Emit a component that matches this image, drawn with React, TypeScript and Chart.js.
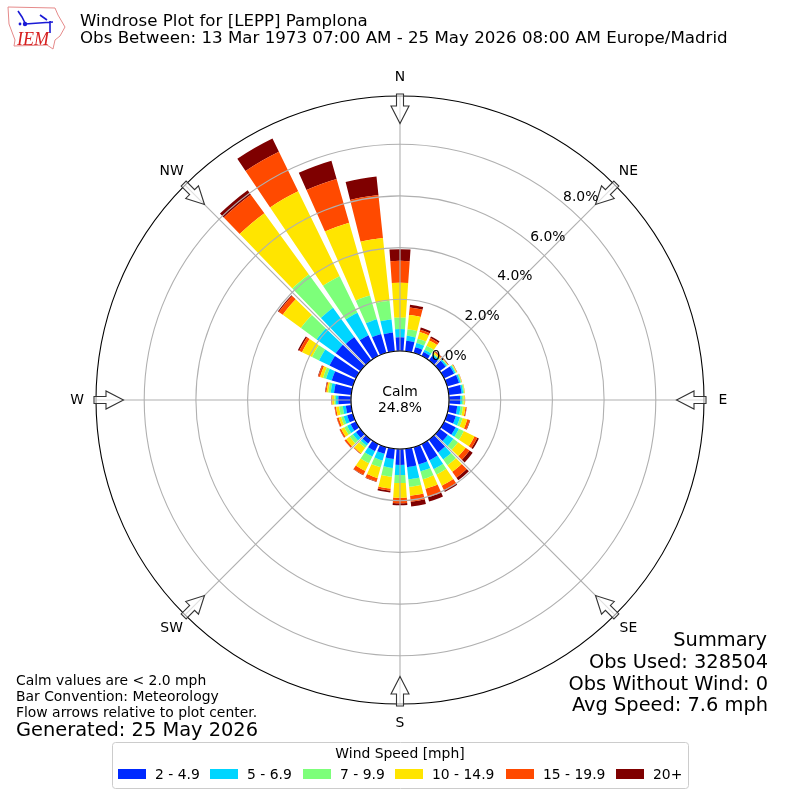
import { useEffect, useRef } from 'react';
import { Chart, ArcElement, RadialLinearScale, PolarAreaController } from 'chart.js';

const directions = [0, 10, 20, 30, 40, 50, 60, 70, 80, 90, 100, 110, 120, 130, 140, 150, 160, 170, 180, 190, 200, 210, 220, 230, 240, 250, 260, 270, 280, 290, 300, 310, 320, 330, 340, 350];
const compassLabels = ['N', 'NE', 'E', 'SE', 'S', 'SW', 'W', 'NW'];
const radialTicks = [0, 2, 4, 6, 8];

const speed2to5 = [0.53, 0.41, 0.23, 0.17, 0.21, 0.29, 0.43, 0.48, 0.5, 0.43, 0.33, 0.35, 0.5, 0.39, 0.61, 0.7, 0.7, 0.72, 0.62, 0.4, 0.27, 0.31, 0.19, 0.21, 0.23, 0.23, 0.21, 0.49, 0.67, 0.85, 1.14, 1.18, 1.12, 0.89, 0.76, 0.73];
const speed5to7 = [0.32, 0.19, 0.17, 0.1, 0.06, 0.06, 0.06, 0.06, 0.06, 0.07, 0.13, 0.17, 0.14, 0.27, 0.34, 0.38, 0.28, 0.47, 0.39, 0.35, 0.27, 0.23, 0.1, 0.15, 0.15, 0.14, 0.12, 0.09, 0.13, 0.23, 0.45, 0.91, 1.39, 0.97, 0.59, 0.51];
const speed7to10 = [0.44, 0.25, 0.17, 0.17, 0.04, 0.03, 0.03, 0.03, 0.04, 0.06, 0.09, 0.1, 0.21, 0.22, 0.27, 0.23, 0.31, 0.29, 0.31, 0.34, 0.27, 0.29, 0.1, 0.15, 0.12, 0.1, 0.14, 0.06, 0.09, 0.12, 0.3, 0.75, 1.59, 1.57, 0.96, 0.73];
const speed10to15 = [1.35, 0.56, 0.27, 0.23, 0.06, 0.02, 0.03, 0.02, 0.02, 0.05, 0.1, 0.19, 0.46, 0.36, 0.32, 0.48, 0.39, 0.35, 0.57, 0.46, 0.43, 0.33, 0.26, 0.17, 0.14, 0.1, 0.12, 0.08, 0.07, 0.12, 0.43, 0.87, 2.93, 3.66, 2.93, 2.44];
const speed15to20 = [0.85, 0.29, 0.09, 0.1, 0.04, 0.01, 0.01, 0.01, 0.005, 0.01, 0.04, 0.1, 0.12, 0.19, 0.28, 0.19, 0.34, 0.23, 0.21, 0.08, 0.14, 0.16, 0.03, 0.07, 0.06, 0.07, 0.05, 0.03, 0.04, 0.07, 0.12, 0.19, 0.89, 1.7, 1.76, 1.67];
const speed20up = [0.45, 0.11, 0.09, 0.07, 0.02, 0.02, 0.01, 0.004, 0.004, 0.004, 0.01, 0.02, 0.07, 0.15, 0.12, 0.08, 0.17, 0.19, 0.08, 0.07, 0.02, 0.02, 0.01, 0.01, 0.01, 0.01, 0.01, 0.01, 0.02, 0.02, 0.06, 0.04, 0.21, 0.57, 0.73, 0.72];

const speedLabels = ['2 - 4.9', '5 - 6.9', '7 - 9.9', '10 - 14.9', '15 - 19.9', '20+'];
const speedColors = ['#0029ff', '#00d5ff', '#7dff7a', '#ffe500', '#ff4a00', '#7f0000'];
const speedValues = [speed2to5, speed5to7, speed7to10, speed10to15, speed15to20, speed20up];

const FONT = '"DejaVu Sans"';
const BAR_WIDTH = 8; // degrees

// polar area elements, but stacked and placed on the real wind direction
class WindRoseController extends PolarAreaController {
    static id = 'windRose';

    updateElements(arcs: any[], start: number, count: number, mode: any) {
        const scale = this._cachedMeta.rScale;
        const datasets = this.chart.data.datasets;
        for (let i = start; i < start + count; i++) {
            let base = 0;
            for (let d = 0; d < this.index; d++) base += datasets[d].data[i] as number;
            const value = this.getDataset().data[i] as number;
            const mid = ((directions[i] - 90) * Math.PI) / 180;
            const half = ((BAR_WIDTH / 2) * Math.PI) / 180;
            this.updateElement(
                arcs[i],
                i,
                {
                    x: scale.xCenter,
                    y: scale.yCenter,
                    innerRadius: scale.getDistanceFromCenterForValue(base),
                    outerRadius: scale.getDistanceFromCenterForValue(base + value),
                    startAngle: mid - half,
                    endAngle: mid + half,
                    circumference: half * 2,
                    options: this.resolveDataElementOptions(i, mode)
                },
                mode
            );
        }
    }
}

Chart.register(ArcElement, RadialLinearScale, WindRoseController);

const text = (ctx: any, str: string, x: number, y: number, size: number, align = 'left', color = '#000') => {
    ctx.font = `${size}px ${FONT}`;
    ctx.fillStyle = color;
    ctx.textAlign = align;
    ctx.textBaseline = 'middle';
    ctx.fillText(str, x, y);
};

const drawArrow = (ctx: any, scale: any, index: number) => {
    const a = scale.getIndexAngle(index);
    ctx.save();
    ctx.translate(scale.xCenter, scale.yCenter);
    ctx.rotate(a);
    ctx.beginPath();
    ctx.moveTo(-3.5, -306);
    ctx.lineTo(3.5, -306);
    ctx.lineTo(3.5, -294);
    ctx.lineTo(9, -294);
    ctx.lineTo(0, -276.5);
    ctx.lineTo(-9, -294);
    ctx.lineTo(-3.5, -294);
    ctx.closePath();
    ctx.fillStyle = 'rgba(255,255,255,0.6)';
    ctx.fill();
    ctx.strokeStyle = '#333';
    ctx.lineWidth = 1.1;
    ctx.stroke();
    ctx.restore();
};

const drawLogo = (ctx: any) => {
    ctx.save();
    ctx.strokeStyle = '#e58a8a';
    ctx.lineWidth = 1;
    ctx.beginPath();
    ctx.moveTo(8, 7);
    ctx.lineTo(55, 8);
    ctx.lineTo(58, 15);
    ctx.lineTo(65, 27);
    ctx.lineTo(60, 36);
    ctx.lineTo(55, 40);
    ctx.lineTo(53, 49);
    ctx.lineTo(47, 45);
    ctx.lineTo(14, 46);
    ctx.lineTo(15, 40);
    ctx.lineTo(9, 24);
    ctx.closePath();
    ctx.stroke();
    ctx.strokeStyle = '#1a1ad6';
    ctx.fillStyle = '#1a1ad6';
    ctx.lineWidth = 1.6;
    ctx.beginPath();
    ctx.moveTo(25, 24);
    ctx.lineTo(53, 22);
    ctx.moveTo(18, 11);
    ctx.lineTo(22, 17);
    ctx.lineTo(25, 23);
    ctx.moveTo(40, 15);
    ctx.lineTo(47, 20);
    ctx.moveTo(50, 21);
    ctx.lineTo(50, 33);
    ctx.stroke();
    ctx.beginPath();
    ctx.arc(25, 24, 2.2, 0, Math.PI * 2);
    ctx.arc(20, 24, 1.4, 0, Math.PI * 2);
    ctx.fill();
    ctx.fillStyle = '#d62020';
    ctx.font = 'italic 18px "Liberation Serif"';
    ctx.textAlign = 'left';
    ctx.textBaseline = 'alphabetic';
    ctx.fillText('IEM', 17, 45);
    ctx.restore();
};

const roseExtras = {
    id: 'roseExtras',
    afterDraw(chart: any) {
        const ctx = chart.ctx;
        const scale = chart.scales.r;
        const cx = scale.xCenter;
        const cy = scale.yCenter;

        // rim, flow arrows, compass labels
        ctx.strokeStyle = '#000';
        ctx.lineWidth = 1.1;
        ctx.beginPath();
        ctx.arc(cx, cy, scale.drawingArea, 0, Math.PI * 2);
        ctx.stroke();
        compassLabels.forEach((label, i) => {
            drawArrow(ctx, scale, i);
            const p = scale.getPointPosition(i, 323);
            text(ctx, label, p.x, p.y, 13.9, 'center');
        });

        // calm disc
        ctx.beginPath();
        ctx.arc(cx, cy, scale.getDistanceFromCenterForValue(0), 0, Math.PI * 2);
        ctx.fillStyle = '#fff';
        ctx.fill();
        ctx.stroke();
        text(ctx, 'Calm', cx, 392, 13.9, 'center');
        text(ctx, '24.8%', cx, 408, 13.9, 'center');

        // radial tick labels
        radialTicks.forEach((v) => {
            const r = scale.getDistanceFromCenterForValue(v);
            text(ctx, v.toFixed(1) + '%', 418 + r * 0.636, 394.5 - r * 0.772, 13.9, 'center');
        });

        // titles
        drawLogo(ctx);
        text(ctx, 'Windrose Plot for [LEPP] Pamplona', 80, 21.5, 16.67);
        text(ctx, 'Obs Between: 13 Mar 1973 07:00 AM - 25 May 2026 08:00 AM Europe/Madrid', 80, 39, 16.67);

        // summary
        text(ctx, 'Summary', 767, 641, 19.4, 'right');
        text(ctx, 'Obs Used: 328504', 768, 662.5, 19.4, 'right');
        text(ctx, 'Obs Without Wind: 0', 768, 684.5, 19.4, 'right');
        text(ctx, 'Avg Speed: 7.6 mph', 768, 706, 19.4, 'right');

        // footnotes
        text(ctx, 'Calm values are < 2.0 mph', 16, 681, 13.9);
        text(ctx, 'Bar Convention: Meteorology', 16, 697, 13.9);
        text(ctx, 'Flow arrows relative to plot center.', 16, 713, 13.9);
        text(ctx, 'Generated: 25 May 2026', 16, 731, 19.4);

        // legend
        ctx.strokeStyle = '#ccc';
        ctx.lineWidth = 1;
        ctx.fillStyle = '#fff';
        ctx.beginPath();
        ctx.roundRect(112.5, 742.5, 576, 46, 3);
        ctx.fill();
        ctx.stroke();
        text(ctx, 'Wind Speed [mph]', 400, 754, 13.9, 'center');
        const handleX = [118, 210, 303, 395, 506, 616];
        chart.data.datasets.forEach((ds: any, i: number) => {
            ctx.fillStyle = ds.backgroundColor;
            ctx.fillRect(handleX[i], 769, 28, 10);
            text(ctx, ds.label, handleX[i] + 37, 775, 13.9);
        });
    }
};

const App = () => {
    const chartRef = useRef<HTMLCanvasElement>(null);

    useEffect(() => {
        const chart = new Chart(chartRef.current as HTMLCanvasElement, {
            type: 'windRose' as any,
            data: {
                labels: directions.map(String),
                datasets: speedValues.map((values, i) => ({
                    label: speedLabels[i],
                    data: values,
                    backgroundColor: speedColors[i],
                    borderWidth: 0
                }))
            },
            options: {
                responsive: false,
                animation: false,
                devicePixelRatio: 1,
                layout: { padding: 96 },
                plugins: { legend: { display: false }, tooltip: { enabled: false } },
                scales: {
                    r: {
                        type: 'radialLinear',
                        labels: compassLabels,
                        min: -1.8956,
                        max: 9.865,
                        startAngle: 0,
                        afterBuildTicks: (scale: any) => {
                            scale.ticks = radialTicks.map((value) => ({ value }));
                        },
                        ticks: { display: false },
                        pointLabels: { display: false },
                        grid: { display: true, circular: true, color: '#b0b0b0', lineWidth: 1.1, z: 1 },
                        angleLines: { display: true, color: '#b0b0b0', lineWidth: 1.1 }
                    }
                }
            } as any,
            plugins: [roseExtras]
        });

        return () => {
            chart.destroy();
        };
    }, []);

    return (
        <div style={{ position: 'absolute', left: 0, top: 0, width: 800, height: 800 }}>
            <canvas ref={chartRef} width={800} height={800} />
        </div>
    );
};

export default App;
